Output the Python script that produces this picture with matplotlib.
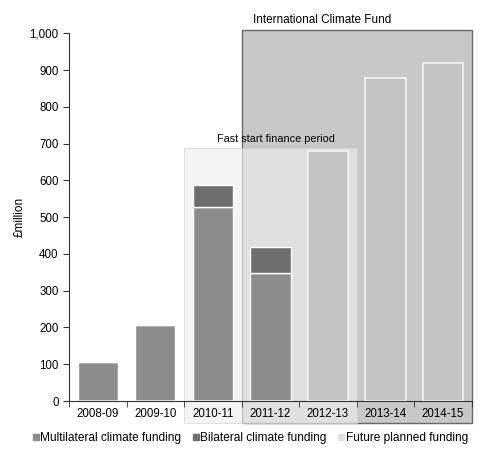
import matplotlib.pyplot as plt
from matplotlib.patches import Rectangle
from matplotlib.lines import Line2D

plt.rcParams['font.family'] = ['Liberation Sans', 'DejaVu Sans']

years = ['2008-09', '2009-10', '2010-11', '2011-12', '2012-13', '2013-14', '2014-15']
multilateral = [106, 207, 528, 348, 0, 0, 0]
bilateral = [0, 0, 60, 72, 0, 0, 0]
future = [0, 0, 0, 0, 679, 878, 918]

c_multi = '#8c8c8c'
c_bi = '#6e6e6e'
c_future = '#c4c4c4'

fig = plt.figure(figsize=(4.81, 4.54), dpi=100)
ax = fig.add_axes([0.1435, 0.1167, 0.8375, 0.810])

x = list(range(len(years)))

# International Climate Fund box (extends under tick labels)
ax.add_patch(Rectangle((2.5, -60), 4.0, 1068, facecolor='#c8c8c8',
                       edgecolor='#6a6a6a', linewidth=1.0, zorder=0.2, clip_on=False))
# Fast start finance period box (semi-transparent light overlay)
ax.add_patch(Rectangle((1.5, -60), 3.0, 748, facecolor='#eeeeee', alpha=0.64,
                       edgecolor='#d4d4d4', linewidth=0.8, zorder=0.3, clip_on=False))

ax.text(3.9, 1020, 'International Climate Fund', ha='center', va='bottom', fontsize=8.5)
ax.text(3.1, 700, 'Fast start finance period', ha='center', va='bottom', fontsize=7.8)

w = 0.7
ax.bar(x, multilateral, width=w, color=c_multi, edgecolor='white', linewidth=1.0, zorder=2)
ax.bar(x, bilateral, width=w, bottom=multilateral, color=c_bi, edgecolor='white',
       linewidth=1.0, zorder=2)
ax.bar(x, future, width=w, color=c_future, edgecolor='#f4f4f4', linewidth=1.2, zorder=2)

ax.set_xlim(-0.5, 6.5)
ax.set_ylim(0, 1000)
ax.set_yticks(range(0, 1001, 100))
ax.set_yticklabels([f'{v:,}' for v in range(0, 1001, 100)])
ax.set_xticks(x)
ax.set_xticklabels(years)
ax.set_xticks([i + 0.5 for i in range(-1, 7)], minor=True)
ax.tick_params(axis='x', which='major', length=0, labelsize=8.3, pad=5)
ax.tick_params(axis='x', which='minor', length=4, direction='out', color='#333333')
ax.tick_params(axis='y', length=4, direction='out', labelsize=8.3, color='#333333')

for s in ['top', 'right']:
    ax.spines[s].set_visible(False)
ax.spines['left'].set_color('#333333')
ax.spines['bottom'].set_color('#333333')
ax.set_facecolor('none')

ax.set_ylabel('£million', fontsize=8.5, labelpad=3)

handles = [
    Line2D([], [], marker='s', linestyle='none', color=c_multi, markersize=4),
    Line2D([], [], marker='s', linestyle='none', color=c_bi, markersize=4),
    Line2D([], [], marker='s', linestyle='none', color='#e2e2e2', markersize=4),
]
labels = ['Multilateral climate funding', 'Bilateral climate funding', 'Future planned funding']
fig.legend(handles, labels, loc='center', bbox_to_anchor=(0.52, 0.035), ncol=3,
           frameon=False, fontsize=8.6, handlelength=0.6, handletextpad=0.1,
           columnspacing=0.9, borderaxespad=0)

fig.savefig('out.png', dpi=100)
